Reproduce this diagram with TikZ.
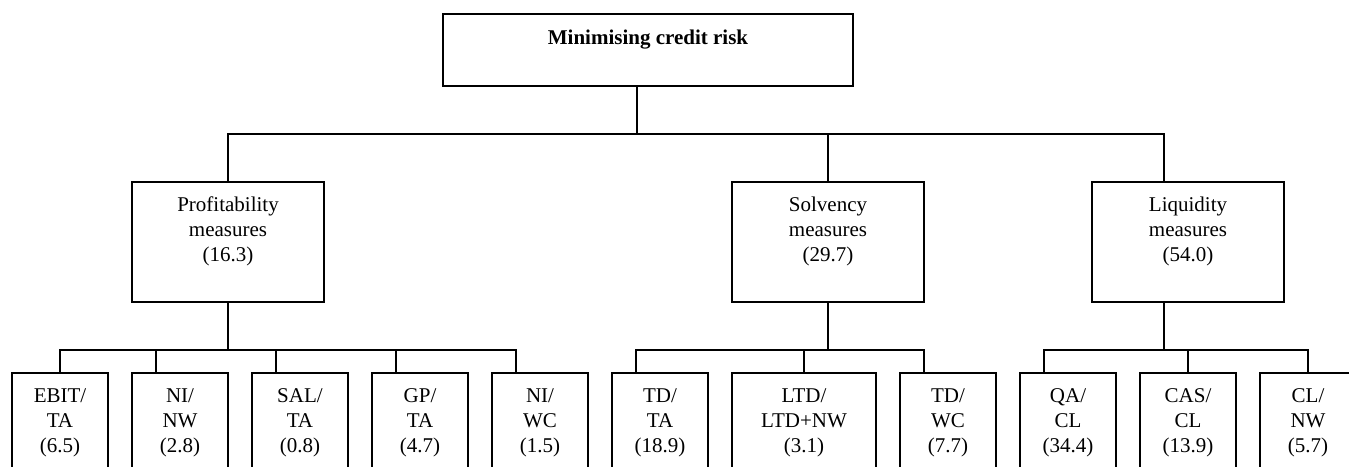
\documentclass[tikz,border=0pt]{standalone}
\usepackage{fontspec}
\setmainfont{Liberation Serif}
\tikzset{
  goalbox/.style={draw, line width=1.6pt, align=center, inner sep=0pt,
    minimum width=410pt, minimum height=72pt, font=\bfseries\fontsize{21}{25}\selectfont},
  groupbox/.style={draw, line width=1.6pt, align=center, inner sep=0pt,
    minimum width=192pt, minimum height=120pt, font=\fontsize{21}{25}\selectfont},
  ratiobox/.style={groupbox, minimum width=96pt},
  link/.style={line width=1.6pt}
}
\begin{document}
\begin{tikzpicture}[x=1pt,y=-1pt]
    \useasboundingbox (0,0) rectangle (1349,466);
    \clip (0,0) rectangle (1349,466);
    % goal and the three groups
    \node[goalbox] (goal) at (648,50) {Minimising credit risk\\\mbox{}};
    \node[groupbox] (prof) at (228,242) {Profitability\\measures\\(16.3)\\\mbox{}};
    \node[groupbox] (solv) at (828,242) {Solvency\\measures\\(29.7)\\\mbox{}};
    \node[groupbox] (liq) at (1188,242) {Liquidity\\measures\\(54.0)\\\mbox{}};
    \coordinate (gbus) at (637,134);
    \draw[link] (goal.south -| gbus) -- (gbus);
    \draw[link] (prof.north) |- (gbus);
    \draw[link] (solv.north) |- (gbus);
    \draw[link] ([xshift=-24pt]liq.north) |- (gbus);
    % ratios
    \foreach \n/\x/\lbl in {ebit/60/{EBIT/\\TA\\(6.5)}, ninw/180/{NI/\\NW\\(2.8)},
        sal/300/{SAL/\\TA\\(0.8)}, gp/420/{GP/\\TA\\(4.7)}, niwc/540/{NI/\\WC\\(1.5)},
        tdta/660/{TD/\\TA\\(18.9)}, tdwc/948/{TD/\\WC\\(7.7)},
        qacl/1068/{QA/\\CL\\(34.4)}, cascl/1188/{CAS/\\CL\\(13.9)}, clnw/1308/{CL/\\NW\\(5.7)}}
        \node[ratiobox] (\n) at (\x,433) {\lbl\\\mbox{}};
    \node[ratiobox, minimum width=144pt] (ltd) at (804,433) {LTD/\\LTD+NW\\(3.1)\\\mbox{}};
    % buses below the groups
    \coordinate (pbus) at (228,350);
    \coordinate (sbus) at (828,350);
    \coordinate (lbus) at (1164,350);
    \draw[link] (prof.south) -- (pbus);
    \draw[link] (solv.south) -- (sbus);
    \draw[link] ([xshift=-24pt]liq.south) -- (lbus);
    \foreach \n/\o in {ebit/0,ninw/-24,sal/-24,gp/-24,niwc/-24}
        \draw[link] ([xshift=\o pt]\n.north) |- (pbus);
    \foreach \n/\o in {tdta/-24,ltd/0,tdwc/-24}
        \draw[link] ([xshift=\o pt]\n.north) |- (sbus);
    \foreach \n/\o in {qacl/-24,cascl/0,clnw/0}
        \draw[link] ([xshift=\o pt]\n.north) |- (lbus);
\end{tikzpicture}
\end{document}
